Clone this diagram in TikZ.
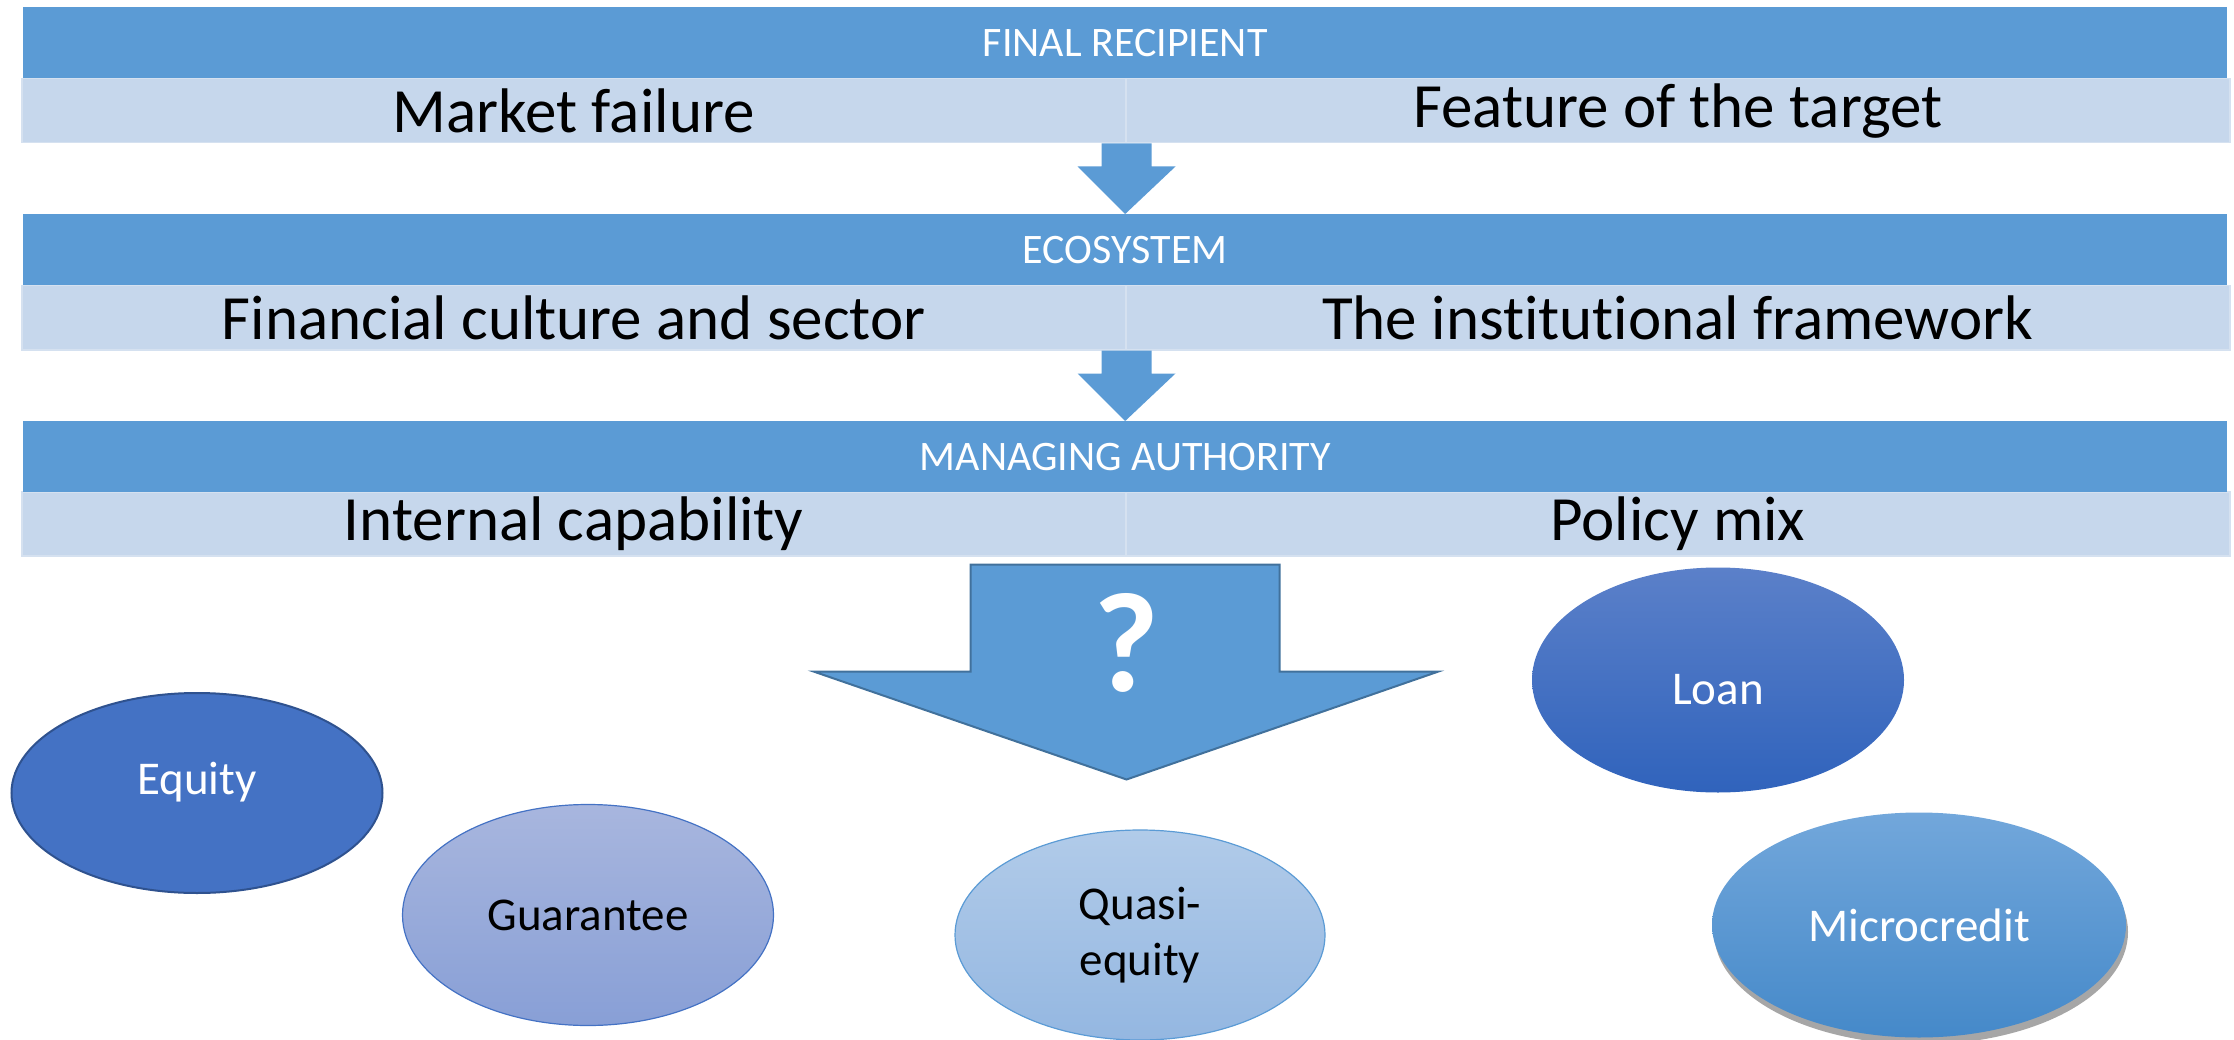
\documentclass[tikz,border=0pt]{standalone}
\usepackage{fontspec}
\setmainfont{Carlito}[Ligatures={NoCommon,NoContextual}]
\usetikzlibrary{calc,shapes.geometric,shadows}
\definecolor{hdrblue}{HTML}{5B9BD5}
\definecolor{cellblue}{HTML}{C6D7EC}
\definecolor{celledge}{HTML}{D5E1F0}
\definecolor{arrowedge}{HTML}{41719C}
\definecolor{eqfill}{HTML}{4472C4}
\definecolor{eqedge}{HTML}{2F528F}
\definecolor{guartop}{HTML}{A8B6DE}
\definecolor{guarbot}{HTML}{889FD6}
\definecolor{quasitop}{HTML}{B1CBE9}
\definecolor{quasibot}{HTML}{94B7E1}
\definecolor{loantop}{HTML}{5B80C9}
\definecolor{loanbot}{HTML}{3063BC}
\definecolor{microtop}{HTML}{72A7DB}
\definecolor{microbot}{HTML}{4589C9}
\begin{document}
\begin{tikzpicture}[x=1pt,y=-1pt,
  hdr/.style={fill=hdrblue, minimum width=2204pt, minimum height=71pt, inner sep=0pt, anchor=north west, text=white, font=\fontsize{42}{48}\selectfont},
  cell/.style={fill=cellblue, draw=celledge, line width=1.5pt, minimum width=1104pt, minimum height=64pt, inner sep=0pt, anchor=north west, font=\fontsize{63}{70}\selectfont},
  blk/.style={fill=hdrblue},
  oval/.style={ellipse, inner sep=0pt, font=\fontsize{47}{56}\selectfont, align=center}
]
\useasboundingbox (0,0) rectangle (2234,1040);
% band cells
\node[cell] (c1l) at (21,78) {Market failure};
\node[cell] (c1r) at (1125,78) {Feature of the target};
\node[cell] (c2l) at (21,285) {Financial culture and sector};
\node[cell] (c2r) at (1125,285) {The inst\kern0pt itut\kern0pt ional framework};
\node[cell] (c3l) at (21,491) {Internal capability};
\node[cell] (c3r) at (1125,491) {Policy mix};
% headers
\node[hdr] (h1) at (23,7) {FINAL RECIPIENT};
\node[hdr] (h2) at (23,214) {ECOSYSTEM};
\node[hdr] (h3) at (23,421) {MANAGING AUTHORITY};
% small arrows
\coordinate (a1) at (c1l.south east);
\fill[blk] ($(a1)+(-25,0)$) -- ($(a1)+(25,0)$) -- ($(a1)+(25,23)$) -- ($(a1)+(49,23)$) -- (h2.north) -- ($(a1)+(-49,23)$) -- ($(a1)+(-25,23)$) -- cycle;
\coordinate (a2) at (c2l.south east);
\fill[blk] ($(a2)+(-25,0)$) -- ($(a2)+(25,0)$) -- ($(a2)+(25,23)$) -- ($(a2)+(49,23)$) -- (h3.north) -- ($(a2)+(-49,23)$) -- ($(a2)+(-25,23)$) -- cycle;
% big arrow
\coordinate (a3) at (c3l.south east);
\draw[fill=hdrblue, draw=arrowedge, line width=2pt, line join=miter] ($(a3)+(-156,8)$) -- ($(a3)+(153,8)$) -- ($(a3)+(153,115)$) -- ($(a3)+(312,115)$) -- ($(a3)+(0,223)$) -- ($(a3)+(-313,115)$) -- ($(a3)+(-156,115)$) -- cycle;
\node[text=white, font=\bfseries\fontsize{142}{146}\selectfont, inner sep=0pt] (qm) at ($(a3)+(0,86)$) {?};
% ellipses
\node[oval, fill=eqfill, draw=eqedge, line width=2pt, minimum width=371pt, minimum height=200pt, text=white, text height=30pt, text depth=28pt] (eq) at (197,793) {Equity};
\node[oval, top color=guartop, bottom color=guarbot, draw=eqfill, line width=1.2pt, minimum width=371pt, minimum height=221pt] (gu) at (588,915) {Guarantee};
\node[oval, top color=quasitop, bottom color=quasibot, draw=hdrblue, line width=1.2pt, minimum width=370pt, minimum height=210pt] (qe) at (1140,935) {Quasi-\\equity};
\node[oval, top color=loantop, bottom color=loanbot, minimum width=372pt, minimum height=225pt, text=white, text height=48pt, text depth=0pt] (lo) at (1718,680) {Loan};
\node[oval, top color=microtop, bottom color=microbot, minimum width=414pt, minimum height=225pt, text=white, drop shadow={shadow xshift=2pt, shadow yshift=-7pt, fill=black, opacity=0.35}] (mc) at (1919,925) {Microcredit};
\end{tikzpicture}
\end{document}
